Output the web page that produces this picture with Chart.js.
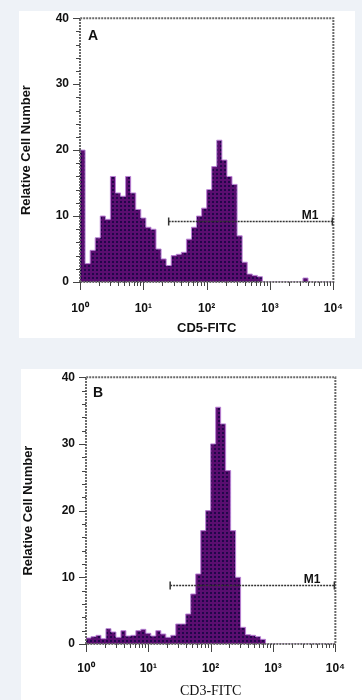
<!DOCTYPE html>
<html><head><meta charset="utf-8">
<script src="https://cdn.jsdelivr.net/npm/chart.js@4"></script>
<style>
html,body{margin:0;padding:0;background:#eef2f7;width:362px;height:700px;overflow:hidden;position:relative}
.panel{position:absolute;background:#fff}
canvas{position:absolute}
</style></head><body>
<div class="panel" style="left:19px;top:11px;width:336px;height:327px"></div>
<div class="panel" style="left:21px;top:369px;width:341px;height:331px"></div>
<canvas id="ca" width="343" height="338" style="left:19px;top:0px"></canvas>
<canvas id="cb" width="341" height="341" style="left:21px;top:359px"></canvas>
<script>
// ---- data ----
const xTickLabels = ['10\u2070','10\u00B9','10\u00B2','10\u00B3','10\u2074'];
const binWidth = 0.08; // log10 units per histogram channel group
const countsA = [20,2.8,4.8,6.7,10,9.5,16,13.5,13,16,13.5,11,9.7,8.3,8,5,3.5,2.5,4,4.2,4.5,6.5,8.3,10,11.2,14,17.5,21.5,18.5,16,14.8,7,3,1.2,1,0.8,0,0,0,0,0,0,0,0,0.6,0,0,0,0,0];
const countsB = [0.9,1.1,1.3,0.8,2.3,1.8,1,2,1.2,1.3,2,2.2,1.6,1.2,2,1.5,1,1.3,3,3,4.5,7.5,10.5,17,20,30,35.5,33,26,17,10,2.5,1.4,1.3,1.1,0.7,0,0,0,0,0,0,0,0,0,0,0,0,0,0];
const markerA = [1.4, 4, 9.2];   // M1: start, end, level
const markerB = [1.35, 4, 8.9];
const titleA = 'CD5-FITC';
const titleB = 'CD3-FITC';
const yTitle = 'Relative Cell Number';

function toPoints(counts){
  const pts = counts.map((c,i)=>({x:i*binWidth, y:c}));
  pts.push({x:counts.length*binWidth, y:0});
  return pts;
}
function makePattern(){
  const c=document.createElement('canvas'); c.width=4; c.height=4;
  const g=c.getContext('2d');
  g.fillStyle='#5a0e70'; g.fillRect(0,0,4,4);
  g.fillStyle='#22064a'; g.fillRect(1,1,2,2);
  return g.createPattern(c,'repeat');
}

const frame = {
  id:'frame',
  afterDatasetsDraw(chart, args, o){
    const {ctx, chartArea:a, scales:{x,y}} = chart;
    const L=(x1,y1,x2,y2)=>{ctx.beginPath();ctx.moveTo(x1,y1);ctx.lineTo(x2,y2);ctx.stroke();};
    ctx.save();
    ctx.strokeStyle='#6a6a6a'; ctx.lineWidth=2; ctx.setLineDash([2,1]);
    ctx.beginPath(); ctx.moveTo(a.left,a.bottom); ctx.lineTo(a.left,a.top); ctx.lineTo(a.right,a.top);
    ctx.lineTo(a.right,a.bottom); ctx.closePath(); ctx.stroke();
    ctx.setLineDash([]); ctx.lineWidth=1; ctx.strokeStyle='#444';
    for(let v=0; v<=40; v+=2){
      const py=Math.round(y.getPixelForValue(v))+0.5;
      const len = v%10===0?7:4;
      L(a.left-len,py,a.left,py);
    }
    for(let d=0; d<=4; d++){
      const px=Math.round(x.getPixelForValue(d))+0.5;
      L(px,a.bottom,px,a.bottom+8);
      if(d<4) for(let k=2;k<=9;k++){
        const qx=Math.round(x.getPixelForValue(d+Math.log10(k)))+0.5;
        L(qx,a.bottom,qx,a.bottom+4);
      }
    }
    // marker
    const [m0,m1,lv]=o.marker;
    const x0=x.getPixelForValue(m0), x1=x.getPixelForValue(m1), my=Math.round(y.getPixelForValue(lv))+0.5;
    ctx.strokeStyle='#333'; ctx.lineWidth=1.5; ctx.setLineDash([2,1]);
    L(x0,my,x1,my);
    ctx.setLineDash([]); ctx.lineWidth=1.5;
    L(x0,my-4,x0,my+4); L(x1-1,my-4,x1-1,my+4);
    ctx.fillStyle='#111'; ctx.font='bold 12px "Liberation Sans"'; ctx.textAlign='right'; ctx.textBaseline='alphabetic';
    ctx.fillText('M1', x1-15, my-3);
    // letter
    ctx.font='bold 14px "Liberation Sans"'; ctx.textAlign='left';
    ctx.fillText(o.letter, a.left+o.lx, a.top+o.ly);
    ctx.restore();
  }
};

function makeChart(id, counts, cfg){
  return new Chart(document.getElementById(id), {
    type:'line',
    data:{datasets:[{data:toPoints(counts), stepped:true, fill:'origin',
      backgroundColor:makePattern(), borderColor:'rgba(186,130,214,0.95)', borderWidth:1, pointRadius:0}]},
    options:{
      responsive:false, animation:false, events:[],
      layout:{padding:{top:cfg.pt, right:cfg.pr, left:0, bottom:0}},
      plugins:{legend:{display:false}, tooltip:{enabled:false},
        frame:{marker:cfg.marker, letter:cfg.letter, lx:cfg.lx, ly:cfg.ly}},
      scales:{
        x:{type:'linear', min:0, max:4, grid:{display:false, drawTicks:false}, border:{display:false},
          afterFit:(s)=>{s.height=56;},
          ticks:{stepSize:1, autoSkip:false, maxRotation:0, padding:cfg.xpad, color:'#111',
            font:{family:'Liberation Sans', weight:'bold', size:12},
            callback:(v)=>xTickLabels[Math.round(v)]},
          title:{display:true, text:cfg.xtitle, color:'#111', font:cfg.xfont, padding:{top:0,bottom:cfg.xtb}}},
        y:{min:0, max:40, grid:{display:false, drawTicks:false}, border:{display:false},
          afterFit:(s)=>{s.width=cfg.yw;},
          ticks:{stepSize:10, padding:11, color:'#111', font:{family:'Liberation Sans', weight:'bold', size:12}},
          title:{display:true, text:yTitle, color:'#111', font:{family:'Liberation Sans', weight:'bold', size:13, lineHeight:1.1}, padding:{top:0,bottom:0}}}
      }
    },
    plugins:[frame]
  });
}

makeChart('ca', countsA, {pt:15, pr:18, yw:61, xpad:19, xtitle:titleA, xtb:2,
  xfont:{family:'Liberation Sans', weight:'bold', size:13}, marker:markerA, letter:'A', lx:8, ly:22});
makeChart('cb', countsB, {pt:14, pr:10, yw:65, xpad:17, xtitle:titleB, xtb:0,
  xfont:{family:'Liberation Serif', size:14}, marker:markerB, letter:'B', lx:7, ly:20});
</script>
</body></html>
